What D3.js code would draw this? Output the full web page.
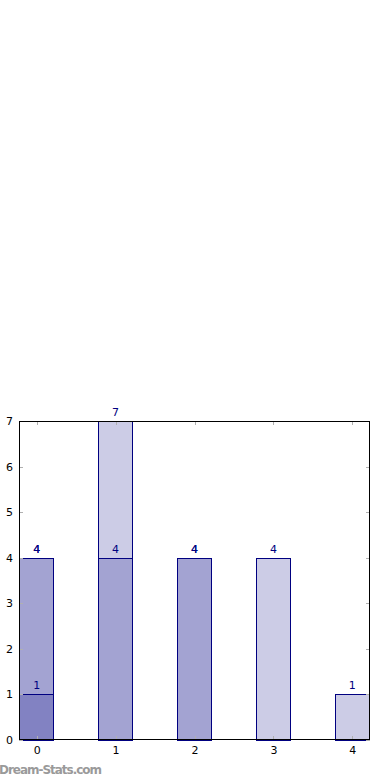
<!DOCTYPE html>
<html>
<head>
<meta charset="utf-8">
<script src="https://cdn.jsdelivr.net/npm/d3@7"></script>
<style>
  html, body { margin: 0; padding: 0; background: #fff; }
  svg { display: block; }
  text { font-family: "DejaVu Sans", sans-serif; }
</style>
</head>
<body>
<svg id="chart" width="390" height="780"></svg>
<script>
// Data
const categories = [0, 1, 2, 3, 4];
const seriesA = [4, 7, 4, 4, 1];
const seriesB = [4, 4, 4, null, null];
const seriesC = [1, null, null, null, null];
const yTicks = [0, 1, 2, 3, 4, 5, 6, 7];

const allSeries = [seriesA, seriesB, seriesC];

(function () {
const svg = d3.select("#chart");
const pLeft = 19, pRight = 370, pTop = 421, pBottom = 740;
const barW = 0.45;

const x = d3.scaleLinear().domain([-barW / 2, 4 + barW / 2]).range([pLeft, pRight]);
const y = d3.scaleLinear().domain([0, 7]).range([pBottom, pTop]);
const snap = v => Math.round(v) + 0.5;

// bars
allSeries.forEach(s => {
  const data = categories.map((c, i) => ({ c, v: s[i] })).filter(d => d.v != null);
  svg.append("g").selectAll("rect").data(data).join("rect")
    .attr("x", d => snap(x(d.c - barW / 2)))
    .attr("y", d => snap(y(d.v)))
    .attr("width", d => Math.round(x(d.c + barW / 2)) - Math.round(x(d.c - barW / 2)) - 1)
    .attr("height", d => Math.round(y(0)) - Math.round(y(d.v)))
    .attr("fill", "rgba(0,0,128,0.2)")
    .attr("stroke", "#000080")
    .attr("stroke-width", 1);
  svg.append("g").selectAll("text").data(data).join("text")
    .attr("x", d => x(d.c))
    .attr("y", d => y(d.v) - 5)
    .attr("text-anchor", "middle")
    .attr("font-size", 11)
    .attr("fill", "#000080")
    .text(d => d.v);
});

// ticks (gray, inside)
const tickG = svg.append("g").attr("stroke", "#b0b0b0").attr("stroke-width", 1);
categories.forEach(c => {
  const xx = snap(x(c));
  tickG.append("line").attr("x1", xx).attr("x2", xx).attr("y1", pBottom).attr("y2", pBottom - 4);
  tickG.append("line").attr("x1", xx).attr("x2", xx).attr("y1", pTop).attr("y2", pTop + 4);
});
yTicks.forEach(t => {
  const yy = snap(y(t));
  tickG.append("line").attr("x1", pLeft).attr("x2", pLeft + 4).attr("y1", yy).attr("y2", yy);
  tickG.append("line").attr("x1", pRight).attr("x2", pRight - 4).attr("y1", yy).attr("y2", yy);
});

// frame
svg.append("rect")
  .attr("x", pLeft + 0.5).attr("y", pTop + 0.5)
  .attr("width", pRight - pLeft - 1).attr("height", pBottom - pTop - 1)
  .attr("fill", "none").attr("stroke", "#000").attr("stroke-width", 1);

// axes labels
const xAxis = d3.axisBottom(x).tickValues(categories).tickSize(0).tickPadding(6).tickFormat(d3.format("d"));
const gx = svg.append("g").attr("transform", `translate(0,${pBottom})`).call(xAxis);
gx.select(".domain").remove();
gx.selectAll("text").attr("font-size", 11).attr("fill", "#000").attr("font-family", "DejaVu Sans, sans-serif");

const yAxis = d3.axisLeft(y).tickValues(yTicks).tickSize(0).tickPadding(6).tickFormat(d3.format("d"));
const gy = svg.append("g").attr("transform", `translate(${pLeft},0)`).call(yAxis);
gy.select(".domain").remove();
gy.selectAll("text").attr("font-size", 11).attr("fill", "#000").attr("font-family", "DejaVu Sans, sans-serif");

// watermark
svg.append("text")
  .attr("x", -1).attr("y", 774)
  .attr("font-size", 12).attr("font-weight", 600)
  .attr("fill", "#9a9a9a")
  .attr("textLength", 103)
  .text("Dream-Stats.com");
})();
</script>
</body>
</html>
